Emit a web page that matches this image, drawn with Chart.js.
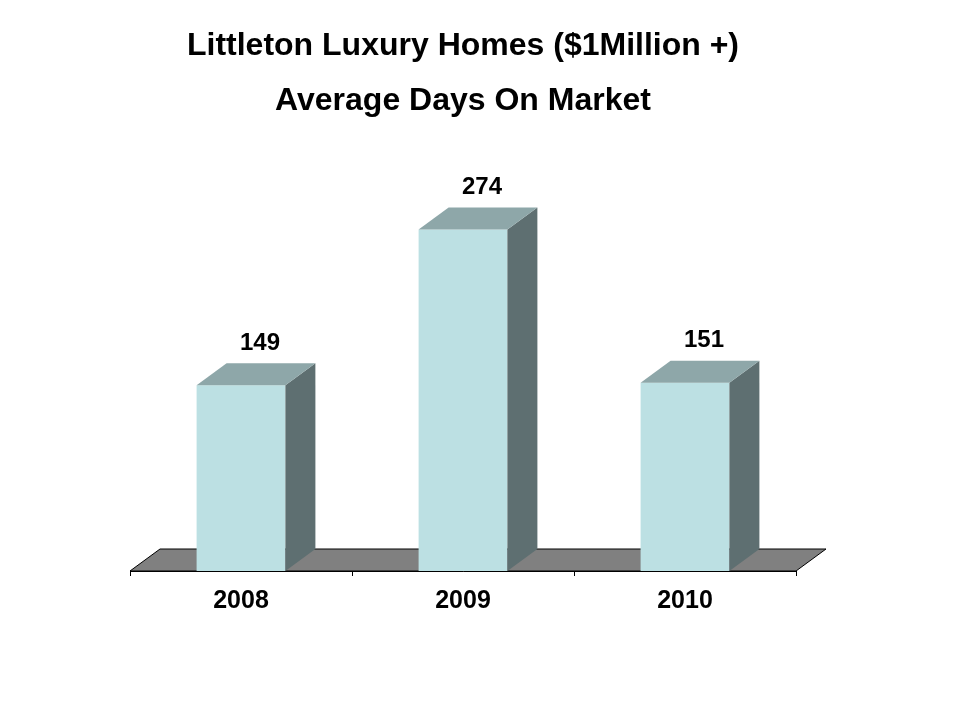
<!DOCTYPE html>
<html>
<head>
<meta charset="utf-8">
<script src="https://cdn.jsdelivr.net/npm/chart.js@4.4.1/dist/chart.umd.min.js"></script>
<style>
  html, body { margin: 0; padding: 0; background: #fff; }
</style>
</head>
<body>
<canvas id="daysChart" width="960" height="720"></canvas>
<script>
// Chart data
const years = ["2008", "2009", "2010"];
const avgDays = [149, 274, 151];
const titleLines = ["Littleton Luxury Homes ($1Million +)", "Average Days On Market"];

// 3D look
const depthX = 30;
const depthY = 22;
const frontColor = "#bce0e3";
const topColor = "#8ea7a9";
const sideColor = "#5e6f71";
const floorColor = "#808080";

const bars3d = {
  id: "bars3d",
  beforeDatasetsDraw(chart) {
    // grey floor under the bars
    const { ctx, scales } = chart;
    const y0 = scales.y.getPixelForValue(0);
    ctx.save();
    ctx.beginPath();
    ctx.moveTo(scales.x.left, y0);
    ctx.lineTo(scales.x.left + depthX, y0 - depthY);
    ctx.lineTo(scales.x.right + depthX, y0 - depthY);
    ctx.lineTo(scales.x.right, y0);
    ctx.closePath();
    ctx.fillStyle = floorColor;
    ctx.fill();
    ctx.strokeStyle = "#000";
    ctx.lineWidth = 1;
    ctx.stroke();
    ctx.restore();
  },
  afterDatasetsDraw(chart) {
    const { ctx } = chart;
    const meta = chart.getDatasetMeta(0);
    ctx.save();
    meta.data.forEach((bar, i) => {
      const { x, y, base, width } = bar.getProps(["x", "y", "base", "width"], true);
      const l = x - width / 2;
      const r = x + width / 2;

      // side face
      ctx.beginPath();
      ctx.moveTo(r, base);
      ctx.lineTo(r + depthX, base - depthY);
      ctx.lineTo(r + depthX, y - depthY);
      ctx.lineTo(r, y);
      ctx.closePath();
      ctx.fillStyle = sideColor;
      ctx.fill();

      // top face
      ctx.beginPath();
      ctx.moveTo(l, y);
      ctx.lineTo(l + depthX, y - depthY);
      ctx.lineTo(r + depthX, y - depthY);
      ctx.lineTo(r, y);
      ctx.closePath();
      ctx.fillStyle = topColor;
      ctx.fill();

      // value label
      ctx.fillStyle = "#000";
      ctx.font = "bold 24px 'Liberation Sans', Arial, sans-serif";
      ctx.textAlign = "center";
      ctx.textBaseline = "middle";
      ctx.fillText(String(avgDays[i]), x + 19, y - depthY - 20);
    });
    ctx.restore();
  }
};

new Chart(document.getElementById("daysChart"), {
  type: "bar",
  data: {
    labels: years,
    datasets: [
      {
        data: avgDays,
        backgroundColor: frontColor,
        borderWidth: 0,
        categoryPercentage: 1,
        barPercentage: 0.4,
      },
    ],
  },
  options: {
    responsive: false,
    animation: false,
    layout: {
      padding: { left: 130, right: 164, top: 0, bottom: 0 },
    },
    scales: {
      x: {
        grid: {
          offset: true,
          drawOnChartArea: false,
          drawTicks: true,
          tickLength: 5,
          tickColor: "#000",
        },
        border: { display: true, color: "#000", width: 1 },
        ticks: {
          color: "#000",
          padding: 10,
          font: { family: "'Liberation Sans', Arial, sans-serif", size: 25, weight: "bold" },
        },
        afterFit: (scale) => {
          scale.height = 149;
        },
      },
      y: {
        display: false,
        min: 0,
        max: 300,
      },
    },
    plugins: {
      legend: { display: false },
      tooltip: { enabled: false },
      title: {
        display: true,
        text: titleLines,
        color: "#000",
        font: {
          family: "'Liberation Sans', Arial, sans-serif",
          size: 32,
          weight: "bold",
          lineHeight: 55 / 32,
        },
        padding: { top: 18.5, bottom: 68.5 },
      },
    },
  },
  plugins: [bars3d],
});
</script>
</body>
</html>
